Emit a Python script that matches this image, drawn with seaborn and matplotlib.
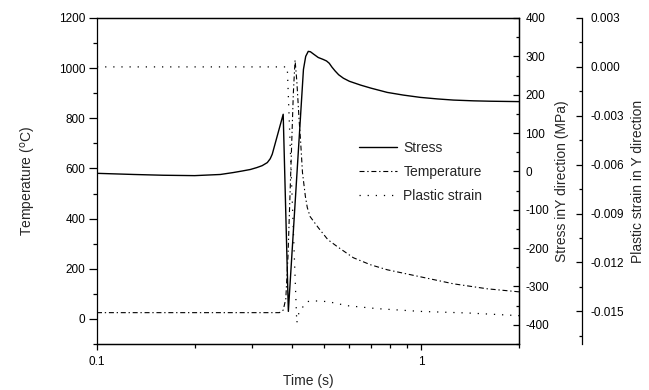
import numpy as np
import pandas as pd
import matplotlib
matplotlib.use("Agg")
import matplotlib.pyplot as plt
import seaborn as sns
from matplotlib.ticker import MultipleLocator, LogLocator, NullFormatter, FormatStrFormatter

# ---------------- data ----------------
time_stress = [0.10, 0.13, 0.16, 0.20, 0.24, 0.263, 0.28, 0.297, 0.311, 0.323, 0.335, 0.342,
               0.347, 0.375, 0.389, 0.433, 0.440, 0.448, 0.455, 0.465, 0.481, 0.498, 0.510,
               0.520, 0.530, 0.542, 0.556, 0.575, 0.600, 0.650, 0.700, 0.785, 0.880, 0.993,
               1.12, 1.256, 1.45, 1.636, 2.0]
stress = [-5, -8, -10, -11, -8, -3, 1, 5, 10, 15, 23, 33,
          45, 149, -365, 266, 300, 313, 312, 306, 297, 292, 288,
          282, 272, 262, 252, 243, 235, 225, 217, 206, 199, 193,
          189, 186, 184, 183, 182]

time_temp = [0.10, 0.365, 0.375, 0.382, 0.388, 0.396, 0.403, 0.408, 0.413, 0.420,
             0.424, 0.430, 0.439, 0.445, 0.454, 0.481, 0.515, 0.551, 0.617, 0.697,
             0.785, 0.993, 1.256, 1.60, 2.0]
temperature = [25, 25, 35, 80, 250, 600, 900, 1032, 950, 790,
               716, 584, 488, 444, 408, 364, 316, 288, 244, 216,
               196, 168, 140, 120, 108]

time_strain = [0.10, 0.386, 0.413, 0.420, 0.445, 0.464, 0.515, 0.591, 0.730, 0.993, 1.40, 2.0]
plastic_strain = [0.0, 0.0, -0.0157, -0.0150, -0.0144, -0.01435, -0.0144, -0.01465,
                  -0.01483, -0.0150, -0.0151, -0.01526]

series_labels = ["Stress", "Temperature", "Plastic strain"]
x_ticks = [0.1, 1]
x_ticklabels = ["0.1", "1"]

df_s = pd.DataFrame({"t": time_stress, "v": stress})
df_t = pd.DataFrame({"t": time_temp, "v": temperature})
df_p = pd.DataFrame({"t": time_strain, "v": plastic_strain})

# ---------------- style ----------------
sns.set_style("ticks")
plt.rcParams["font.family"] = ["Liberation Sans", "DejaVu Sans"]
plt.rcParams["axes.unicode_minus"] = False
plt.rcParams["axes.edgecolor"] = "black"
plt.rcParams["axes.linewidth"] = 0.9
plt.rcParams["xtick.color"] = "black"
plt.rcParams["ytick.color"] = "black"

fig = plt.figure(figsize=(6.49, 3.90), dpi=100)
L, B = 97 / 649, 1 - 344 / 390
W, H = (519 - 97) / 649, (344 - 18) / 390
ax = fig.add_axes([L, B, W, H])
ax.set_xscale("log")
ax2 = ax.twinx()
ax3 = ax.twinx()
ax3.spines["right"].set_position(("axes", (582 - 97) / (519 - 97)))

sns.lineplot(data=df_t, x="t", y="v", ax=ax, color="black", lw=0.8,
             linestyle=(0, (4.5, 2.5, 1.2, 2.5)), label=series_labels[1],
             legend=False, sort=False, estimator=None)
sns.lineplot(data=df_s, x="t", y="v", ax=ax2, color="black", lw=1.0,
             label=series_labels[0], legend=False, sort=False, estimator=None)
sns.lineplot(data=df_p, x="t", y="v", ax=ax3, color="black", lw=0.9,
             linestyle=(0, (1.0, 5.5)), label=series_labels[2],
             legend=False, sort=False, estimator=None)

# ---------------- axes ----------------
ax.set_xlim(0.1, 2.0)
ax.set_ylim(-100, 1200)
ax2.set_ylim(-450, 400)
ax3.set_ylim(-0.017, 0.003)

ax.set_xticks(x_ticks)
ax.set_xticklabels(x_ticklabels)
ax.xaxis.set_minor_locator(LogLocator(base=10, subs=np.arange(2, 10)))
ax.xaxis.set_minor_formatter(NullFormatter())

ax.yaxis.set_major_locator(MultipleLocator(200))
ax.yaxis.set_minor_locator(MultipleLocator(100))
ax2.yaxis.set_major_locator(MultipleLocator(100))
ax2.yaxis.set_minor_locator(MultipleLocator(50))
ax3.yaxis.set_major_locator(MultipleLocator(0.003))
ax3.yaxis.set_minor_locator(MultipleLocator(0.0015))
ax3.yaxis.set_major_formatter(FormatStrFormatter("%.3f"))

fs_tick = 8.5
ax.tick_params(axis="y", which="major", direction="out", length=6, width=0.9, pad=2.5, labelsize=fs_tick)
ax.tick_params(axis="y", which="minor", direction="out", length=3, width=0.9)
ax.tick_params(axis="x", which="major", direction="out", length=4.5, width=0.9, pad=4, labelsize=fs_tick)
ax.tick_params(axis="x", which="minor", direction="out", length=3, width=0.9)
ax2.tick_params(axis="y", which="major", direction="in", length=4, width=0.9, pad=4.5, labelsize=fs_tick)
ax2.tick_params(axis="y", which="minor", direction="in", length=2.5, width=0.9)
ax3.tick_params(axis="y", which="major", direction="in", length=4, width=0.9, pad=6, labelsize=fs_tick)
ax3.tick_params(axis="y", which="minor", direction="in", length=2.5, width=0.9)

fs_lab = 10
ax.set_xlabel("Time (s)", fontsize=fs_lab, labelpad=4.5)
ax.set_ylabel("Temperature ($^{\\mathrm{o}}$C)", fontsize=fs_lab, labelpad=15)
ax2.set_ylabel("Stress inY direction (MPa)", fontsize=fs_lab, labelpad=4)
ax3.set_ylabel("Plastic strain in Y direction", fontsize=fs_lab, labelpad=5)

for a in (ax, ax2, ax3):
    for s in a.spines.values():
        s.set_linewidth(0.9)
        s.set_color("black")
ax3.spines["left"].set_visible(False)
ax3.spines["top"].set_visible(False)
ax3.spines["bottom"].set_visible(False)
ax2.spines["left"].set_visible(False)

handles = [ax2.get_lines()[0], ax.get_lines()[0], ax3.get_lines()[0]]
fig.legend(handles, series_labels, loc="upper left",
           bbox_to_anchor=(359 / 649, 1 - 141 / 390), frameon=False,
           fontsize=10, handlelength=2.7, handletextpad=0.5,
           labelspacing=0.72, borderpad=0, borderaxespad=0)

fig.savefig("out.png", dpi=100)
